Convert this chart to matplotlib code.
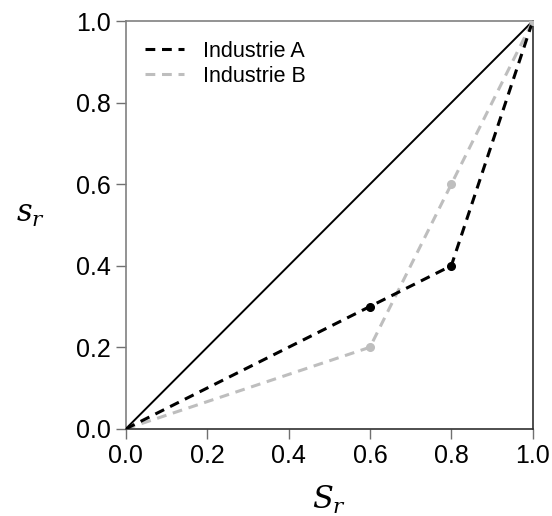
import matplotlib
matplotlib.use('Agg')
import matplotlib.pyplot as plt

# Lorenz-type curves for two industries
x_vals = [0.0, 0.6, 0.8, 1.0]
industrie_a = [0.0, 0.3, 0.4, 1.0]
industrie_b = [0.0, 0.2, 0.6, 1.0]
labels = ['Industrie A', 'Industrie B']
ticks = [0.0, 0.2, 0.4, 0.6, 0.8, 1.0]

plt.rcParams['font.family'] = ['Liberation Sans', 'DejaVu Sans']
plt.rcParams['mathtext.fontset'] = 'dejavuserif'

fig = plt.figure(figsize=(5.52, 5.16), dpi=100)
ax = fig.add_axes([0.228, 0.169, 0.737, 0.790])

gray = '#bebebe'
ax.plot([0, 1], [0, 1], color='black', lw=1.4, zorder=2)
ax.plot(x_vals, industrie_a, color='black', lw=2.2, ls=(0, (3.2, 2.2)), label=labels[0], zorder=3)
ax.plot(x_vals, industrie_b, color=gray, lw=2.2, ls=(0, (3.2, 2.2)), label=labels[1], zorder=2.5)
ax.plot(x_vals[1:3], industrie_a[1:3], 'o', color='black', ms=5.5, zorder=4)
ax.plot(x_vals[1:], industrie_b[1:], 'o', color=gray, ms=5.5, zorder=3.5)

ax.set_xlim(0, 1)
ax.set_ylim(0, 1)
ax.set_xticks(ticks)
ax.set_yticks(ticks)
ax.set_xticklabels(['%.1f' % t for t in ticks])
ax.set_yticklabels(['%.1f' % t for t in ticks])
ax.tick_params(direction='out', length=7, width=1, colors='#707070', labelcolor='black', labelsize=18, pad=4)

for side in ['left', 'top']:
    ax.spines[side].set_color('#808080')
for side in ['bottom', 'right']:
    ax.spines[side].set_color('#303030')
for s in ax.spines.values():
    s.set_linewidth(1.2)

ax.set_xlabel('$S_r$', fontsize=22)
ax.xaxis.set_label_coords(0.5, -0.135)
ax.set_ylabel('$s_r$', fontsize=22, rotation=0)
ax.yaxis.set_label_coords(-0.235, 0.49)

ax.legend(loc='upper left', frameon=False, fontsize=15.5, handlelength=1.8,
          borderaxespad=0.5, labelspacing=0.2, handletextpad=0.9)

fig.savefig('out.png', dpi=100)
